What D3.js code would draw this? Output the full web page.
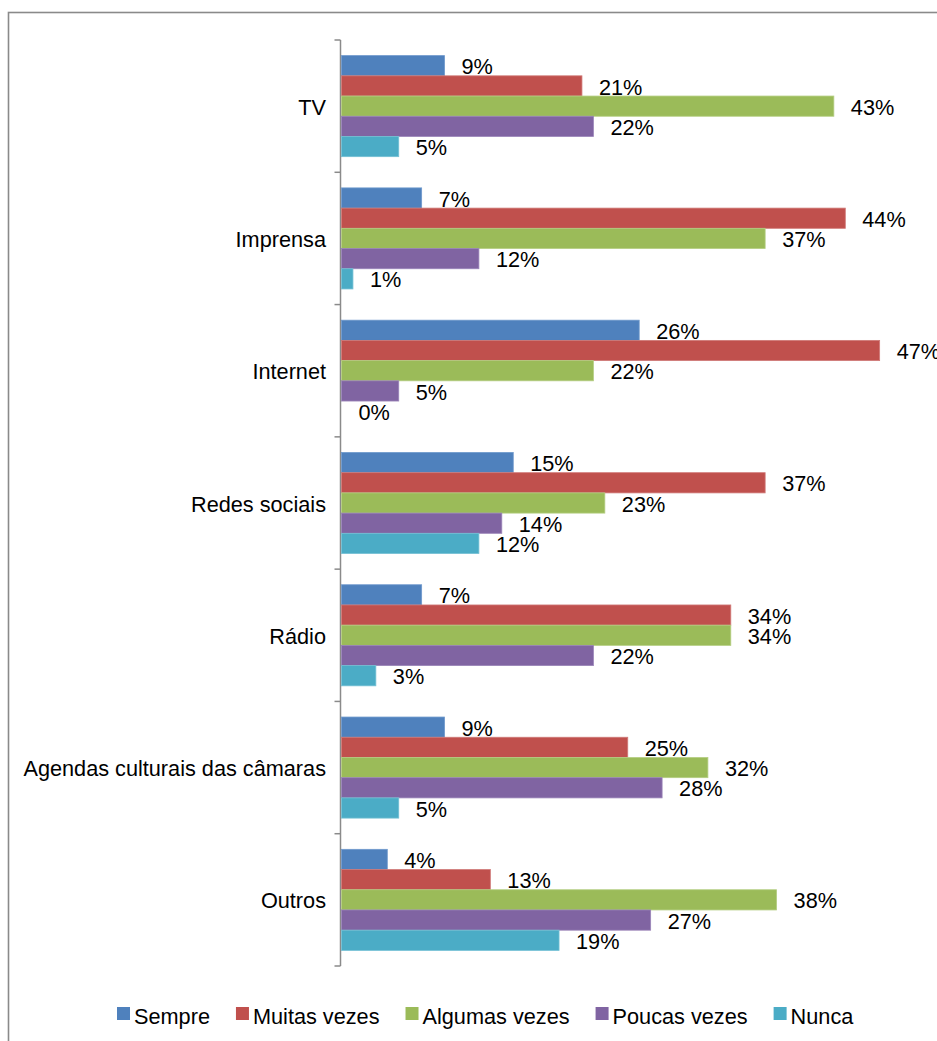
<!DOCTYPE html>
<html>
<head>
<meta charset="utf-8">
<script src="https://cdn.jsdelivr.net/npm/d3@7"></script>
<style>
  html, body { margin: 0; padding: 0; background: #fff; }
  svg { display: block; }
  text { font-family: Arial, "Liberation Sans", sans-serif; fill: #000; }
</style>
</head>
<body>
<svg id="chart" width="937" height="1041"></svg>
<script>
// Media channels (top to bottom) and how often each is used, in percent
const categories = ["TV", "Imprensa", "Internet", "Redes sociais", "Rádio", "Agendas culturais das câmaras", "Outros"];
const seriesNames = ["Sempre", "Muitas vezes", "Algumas vezes", "Poucas vezes", "Nunca"];
const sempre      = [9, 7, 26, 15, 7, 9, 4];
const muitasVezes = [21, 44, 47, 37, 34, 25, 13];
const algumasVezes = [43, 37, 22, 23, 34, 32, 38];
const poucasVezes = [22, 12, 5, 14, 22, 28, 27];
const nunca       = [5, 1, 0, 12, 3, 5, 19];
const colors = ["#4F81BD", "#C0504D", "#9BBB59", "#8064A2", "#4BACC6"];
const edgeColors = ["#6F99CC", "#D07A78", "#B5CE83", "#9A84B8", "#74C0D4"];

const seriesValues = [sempre, muitasVezes, algumasVezes, poucasVezes, nunca];

const svg = d3.select("#chart");
const fontSize = 21.7;

// outer frame (runs past the right and bottom edges)
svg.append("rect")
  .attr("x", 8.5).attr("y", 12.5)
  .attr("width", 1000).attr("height", 1100)
  .attr("fill", "none").attr("stroke", "#8a8a8a").attr("stroke-width", 1.6);

const plotTop = 40, plotBottom = 966, axisX = 340.5;

const y0 = d3.scaleBand()
  .domain(categories)
  .range([plotTop, plotBottom])
  .paddingInner(0.236)
  .paddingOuter(0.118);

const y1 = d3.scaleBand()
  .domain(seriesNames)
  .range([0, y0.bandwidth()]);

const x = d3.scaleLinear()
  .domain([0, 50])
  .range([341.5, 341.5 + 572.5]);

// category axis line with tick marks between groups
const step = y0.step();
const axisG = svg.append("g");
axisG.append("line")
  .attr("x1", axisX).attr("x2", axisX)
  .attr("y1", plotTop).attr("y2", plotBottom)
  .attr("stroke", "#8a8a8a").attr("stroke-width", 1.5);
axisG.selectAll("line.tick")
  .data(d3.range(categories.length + 1))
  .join("line")
  .attr("class", "tick")
  .attr("x1", axisX - 6).attr("x2", axisX)
  .attr("y1", i => plotTop + i * step)
  .attr("y2", i => plotTop + i * step)
  .attr("stroke", "#8a8a8a").attr("stroke-width", 1.5);

// category labels
svg.append("g").selectAll("text")
  .data(categories)
  .join("text")
  .attr("x", 326)
  .attr("y", d => y0(d) + y0.bandwidth() / 2 + 1)
  .attr("dy", "0.35em")
  .attr("text-anchor", "end")
  .attr("font-size", fontSize)
  .text(d => d);

// each series: bars, then its value labels (the next series paints over them)
seriesNames.forEach((name, s) => {
  const g = svg.append("g");
  const vals = seriesValues[s];
  g.selectAll("rect")
    .data(categories)
    .join("rect")
    .attr("x", x(0))
    .attr("y", d => y0(d) + y1(name))
    .attr("width", (d, i) => x(vals[i]) - x(0))
    .attr("height", y1.bandwidth())
    .attr("fill", colors[s])
    .attr("stroke", edgeColors[s])
    .attr("stroke-width", 0.8);
  g.selectAll("text")
    .data(categories)
    .join("text")
    .attr("x", (d, i) => x(vals[i]) + 17)
    .attr("y", d => y0(d) + y1(name) + y1.bandwidth() / 2 + 1)
    .attr("dy", "0.35em")
    .attr("font-size", fontSize)
    .text((d, i) => vals[i] + "%");
});

// legend along the bottom
const legend = svg.append("g");
let lx = 117;
seriesNames.forEach((name, s) => {
  legend.append("rect")
    .attr("x", lx).attr("y", 1007)
    .attr("width", 13).attr("height", 13)
    .attr("fill", colors[s]);
  const t = legend.append("text")
    .attr("x", lx + 17).attr("y", 1024)
    .attr("font-size", fontSize)
    .text(name);
  lx += 17 + t.node().getComputedTextLength() + 26;
});
</script>
</body>
</html>
